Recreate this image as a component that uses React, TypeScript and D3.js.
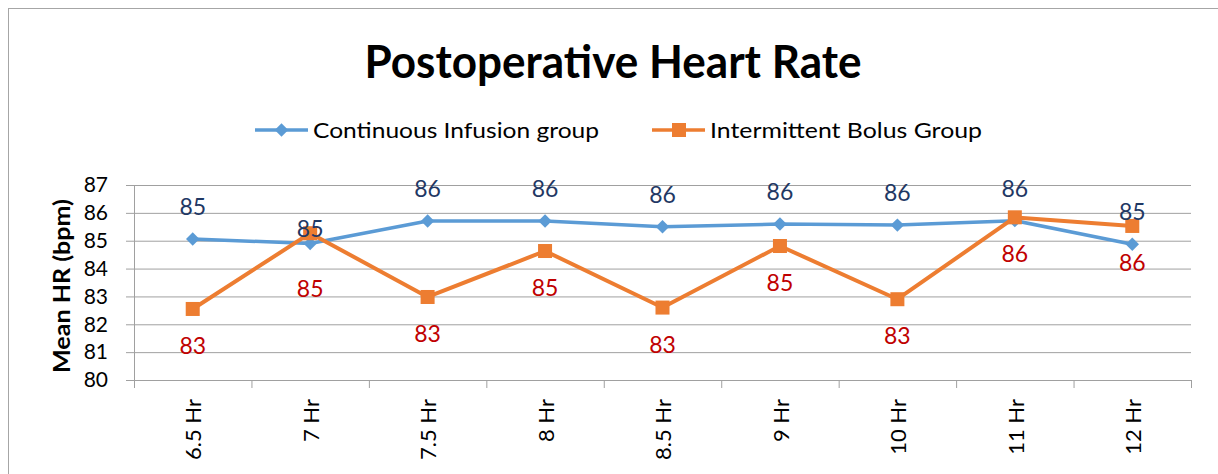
import React from 'react';
import * as d3 from 'd3';

const categories = ['6.5 Hr', '7 Hr', '7.5 Hr', '8 Hr', '8.5 Hr', '9 Hr', '10 Hr', '11 Hr', '12 Hr'];
const continuousValues = [85.06, 84.9, 85.71, 85.71, 85.5, 85.6, 85.56, 85.72, 84.87];
const bolusValues = [82.55, 85.27, 82.98, 84.63, 82.6, 84.81, 82.9, 85.84, 85.53];
const yTicks = [80, 81, 82, 83, 84, 85, 86, 87];

const W = 1218;
const H = 474;
const FONT = 'Lato, "Open Sans", sans-serif';
const BLUE = '#5B9BD5';
const ORANGE = '#ED7D31';
const GRID = '#A0A0A0';

const App = () => {
  const x = d3.scaleBand<string>().domain(categories).range([134, 1191]).paddingInner(0).paddingOuter(0);
  const y = d3.scaleLinear().domain([80, 87]).range([380, 185]);
  const cx = (c: string) => (x(c) ?? 0) + x.bandwidth() / 2;
  const fmt = d3.format('.0f');

  const line = d3.line<number>()
    .x((_, i) => cx(categories[i]))
    .y(d => y(d));

  // excel put the 7 Hr labels somewhere else by hand
  const contDy = (i: number) => (i === 1 ? -15 : -32);
  const bolusDy = (i: number) => (i === 1 ? 56 : 37);

  const diamond = d3.symbol().type(d3.symbolDiamond2).size(115)();

  return (
    <svg width={W} height={H} style={{ position: 'absolute', left: 0, top: 0, background: '#fff' }}>
      <rect x={8.5} y={8.5} width={1300} height={600} fill="#fff" stroke="#A6A6A6" strokeWidth={1} />

      <text x={613} y={78} textAnchor="middle" fontFamily={FONT} fontWeight="bold" fontSize={46}
        textLength={497} lengthAdjust="spacingAndGlyphs" fill="#000">Postoperative Heart Rate</text>

      {/* legend */}
      <g fontFamily={FONT} fontSize={22} fill="#000">
        <line x1={255} x2={308} y1={130} y2={130} stroke={BLUE} strokeWidth={3.5} />
        <path d={diamond!} transform="translate(281.5,130)" fill={BLUE} />
        <text x={313} y={130} dy="0.35em" textLength={286} lengthAdjust="spacingAndGlyphs">Continuous Infusion group</text>
        <line x1={652} x2={705} y1={130} y2={130} stroke={ORANGE} strokeWidth={3.5} />
        <rect x={672} y={123} width={14} height={14} fill={ORANGE} />
        <text x={710} y={130} dy="0.35em" textLength={272} lengthAdjust="spacingAndGlyphs">Intermittent Bolus Group</text>
      </g>

      {/* grid + axes */}
      {yTicks.map(t => (
        <g key={t}>
          <line x1={126} x2={1191} y1={y(t) + 0.5} y2={y(t) + 0.5} stroke={GRID} strokeWidth={1} />
          <text x={108} y={y(t)} dy="0.35em" textAnchor="end" fontFamily={FONT} fontSize={21} fill="#000">{t}</text>
        </g>
      ))}
      <line x1={134.5} x2={134.5} y1={185} y2={388} stroke={GRID} />
      {categories.map(c => (
        <line key={'t' + c} x1={(x(c) ?? 0) + x.bandwidth() + 0.5} x2={(x(c) ?? 0) + x.bandwidth() + 0.5}
          y1={380} y2={388} stroke={GRID} />
      ))}
      {categories.map(c => (
        <text key={'l' + c} transform={`translate(${cx(c) + 1},399) rotate(-90)`} dy="0.35em" textAnchor="end"
          fontFamily={FONT} fontSize={22} fill="#000">{c}</text>
      ))}
      <text transform="translate(70,286) rotate(-90)" textAnchor="middle" fontFamily={FONT} fontWeight="bold"
        fontSize={23} fill="#000" textLength={174} lengthAdjust="spacingAndGlyphs">Mean HR (bpm)</text>

      {/* series */}
      <path d={line(continuousValues)!} fill="none" stroke={BLUE} strokeWidth={3.5} strokeLinejoin="round" />
      {continuousValues.map((v, i) => (
        <path key={'d' + i} d={diamond!} transform={`translate(${cx(categories[i])},${y(v)})`} fill={BLUE} />
      ))}
      <path d={line(bolusValues)!} fill="none" stroke={ORANGE} strokeWidth={4} strokeLinejoin="round" />
      {bolusValues.map((v, i) => (
        <rect key={'s' + i} x={cx(categories[i]) - 7} y={y(v) - 7} width={14} height={14} fill={ORANGE} />
      ))}

      {/* data labels */}
      {continuousValues.map((v, i) => (
        <text key={'cl' + i} x={cx(categories[i])} y={y(v) + contDy(i)} dy="0.35em" textAnchor="middle"
          fontFamily={FONT} fontSize={23} fill="#1F3864">{fmt(v)}</text>
      ))}
      {bolusValues.map((v, i) => (
        <text key={'bl' + i} x={cx(categories[i])} y={y(v) + bolusDy(i)} dy="0.35em" textAnchor="middle"
          fontFamily={FONT} fontSize={23} fill="#C00000">{fmt(v)}</text>
      ))}
    </svg>
  );
};

export default App;
